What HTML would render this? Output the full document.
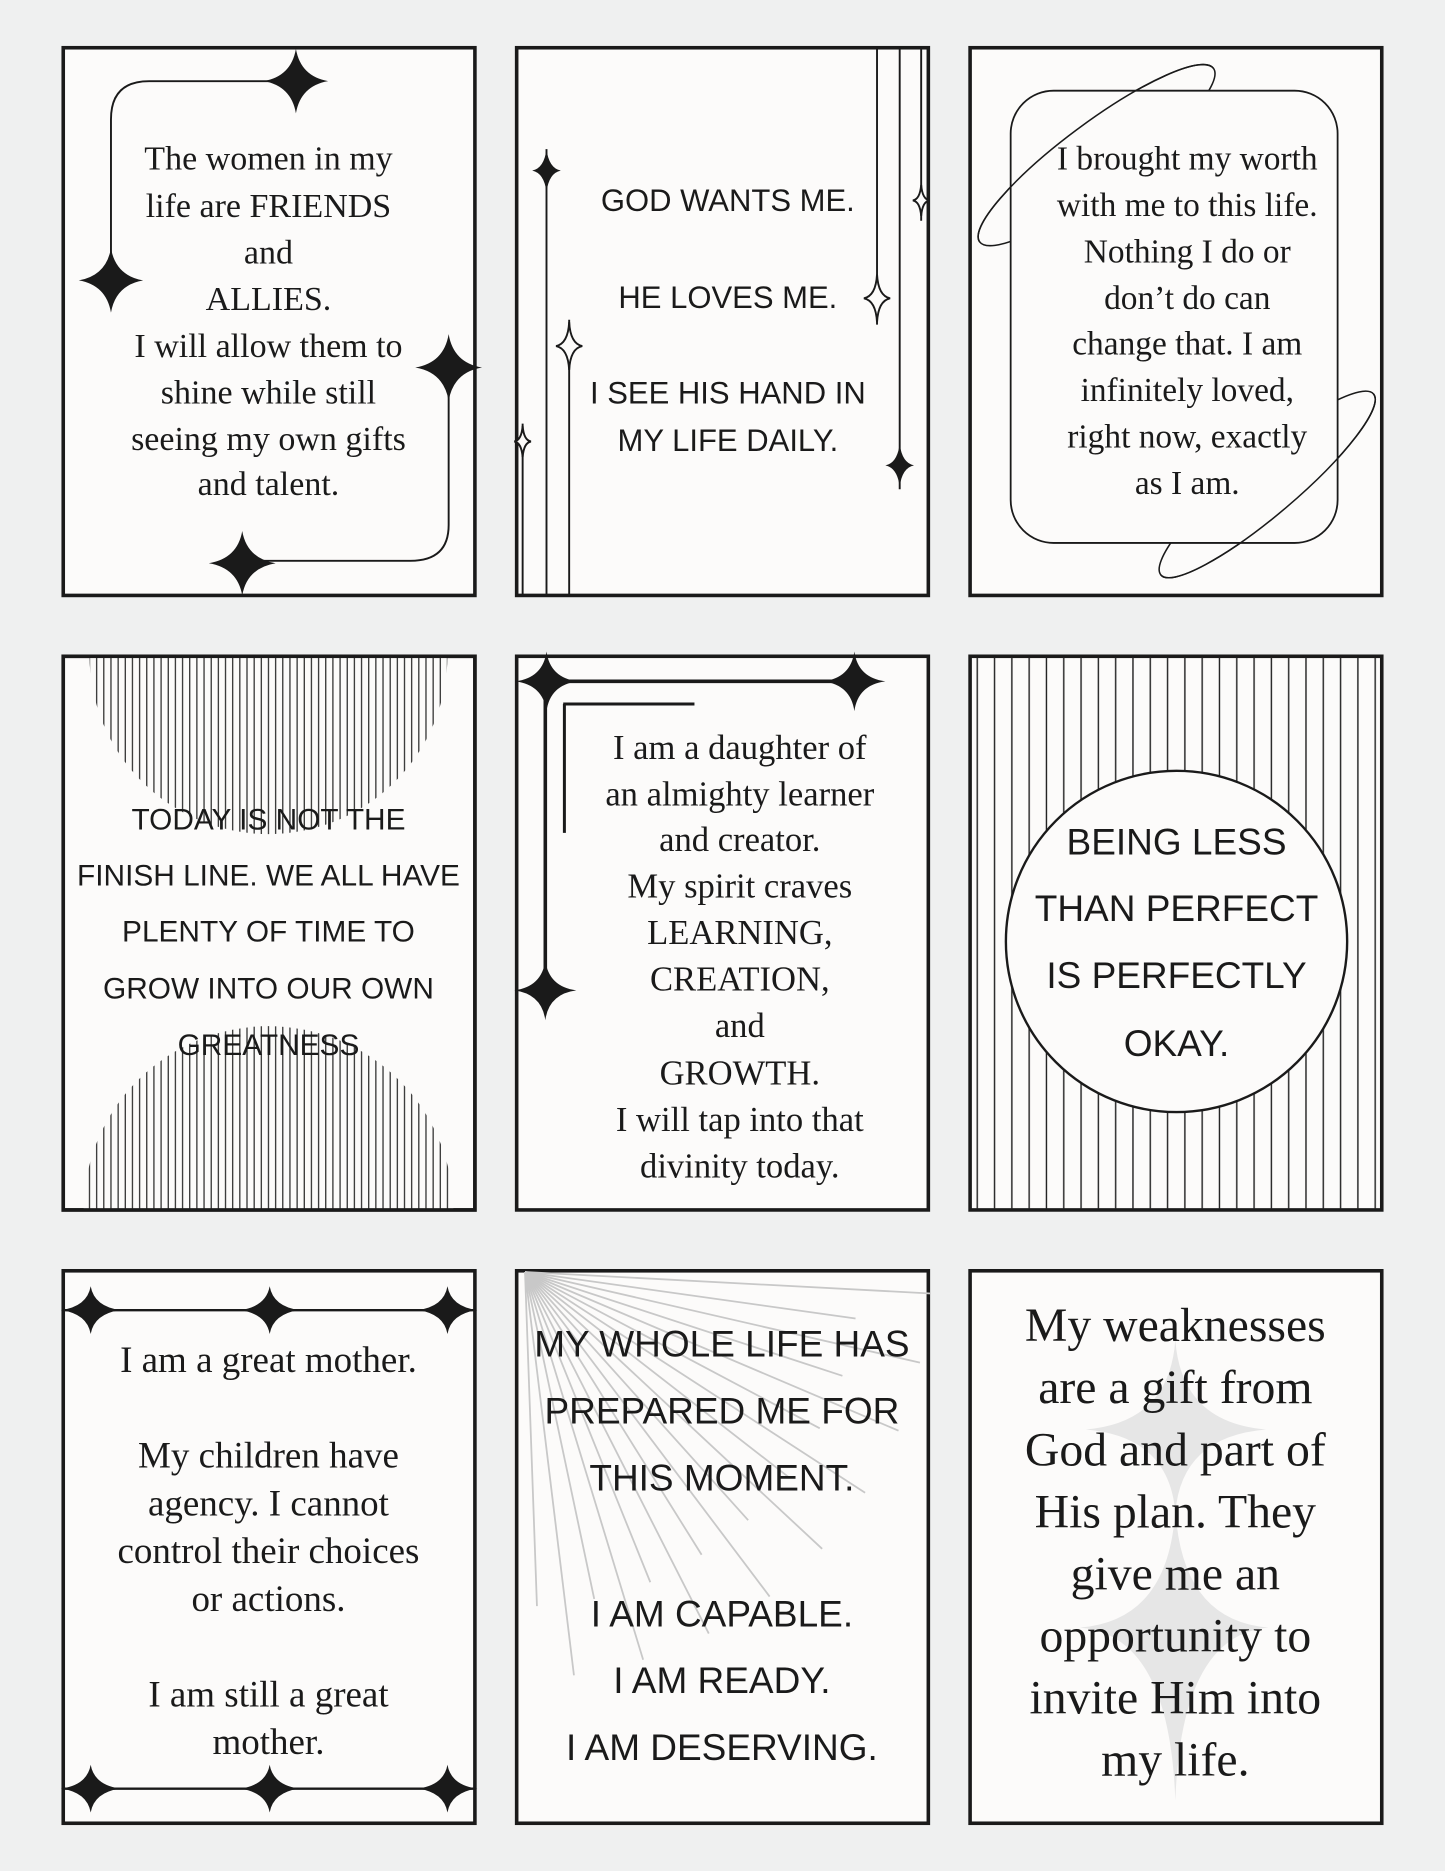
<!DOCTYPE html>
<html><head><meta charset="utf-8"><style>
html,body{margin:0;padding:0;background:#eff0f0;}
svg{display:block}
.s{font-family:"Liberation Serif",serif;fill:#1a1a1a;text-anchor:middle}
.c{font-family:"Liberation Sans",sans-serif;fill:#1a1a1a;text-anchor:middle}
</style></head><body>
<svg width="1445" height="1871" viewBox="0 0 1211 1568" xmlns="http://www.w3.org/2000/svg">
<defs>
<pattern id="st" width="6" height="10" patternUnits="userSpaceOnUse"><rect width="6" height="10" fill="#fcfbfa"/><line x1="3" y1="0" x2="3" y2="10" stroke="#222" stroke-width="1"/></pattern>
<pattern id="st2" x="812" width="14.5" height="10" patternUnits="userSpaceOnUse"><line x1="7" y1="0" x2="7" y2="10" stroke="#222" stroke-width="1.2"/></pattern>
<clipPath id="c4"><rect x="52" y="549" width="347" height="466"/></clipPath>
</defs>
<rect width="1211" height="1568" fill="#eff0f0"/>
<g fill="#fcfbfa" stroke="#1a1a1a" stroke-width="3">
<rect x="53" y="40" width="345" height="459"/>
<rect x="433" y="40" width="345" height="459"/>
<rect x="813" y="40" width="345" height="459"/>
<rect x="53" y="550" width="345" height="464"/>
<rect x="433" y="550" width="345" height="464"/>
<rect x="813" y="550" width="345" height="464"/>
<rect x="53" y="1065" width="345" height="463"/>
<rect x="433" y="1065" width="345" height="463"/>
<rect x="813" y="1065" width="345" height="463"/>
</g>

<!-- card 1 -->
<g fill="none" stroke="#1a1a1a" stroke-width="1.6">
<path d="M248 68 H125 Q93 68 93 100 V235"/>
<path d="M376 308 V440 Q376 470 344 470 H205"/>
</g>
<g fill="#1a1a1a">
<path d="M248 41 Q252 64 275 68 Q252 72 248 95 Q244 72 221 68 Q244 64 248 41Z"/>
<path d="M93 208 Q97 231 120 235 Q97 239 93 262 Q89 239 66 235 Q89 231 93 208Z"/>
<path d="M376 280 Q380 304 404 308 Q380 312 376 336 Q372 312 348 308 Q372 304 376 280Z"/>
<path d="M203 445 Q207 468 231 472 Q207 476 203 499 Q199 476 175 472 Q199 468 203 445Z"/>
</g>
<g class="s" font-size="28.5">
<text x="225" y="142">The women in my</text>
<text x="225" y="182">life are FRIENDS</text>
<text x="225" y="221">and</text>
<text x="225" y="260">ALLIES.</text>
<text x="225" y="299">I will allow them to</text>
<text x="225" y="338">shine while still</text>
<text x="225" y="377">seeing my own gifts</text>
<text x="225" y="415">and talent.</text>
</g>

<!-- card 2 -->
<g stroke="#1a1a1a" stroke-width="1.6" fill="none">
<line x1="458" y1="125" x2="458" y2="500"/>
<line x1="477" y1="268" x2="477" y2="500"/>
<line x1="438" y1="355" x2="438" y2="500"/>
<line x1="735" y1="39" x2="735" y2="272"/>
<line x1="754" y1="39" x2="754" y2="410"/>
<line x1="772" y1="39" x2="772" y2="185"/>
<path d="M477 270 Q478 288 488 290 Q478 292 477 310 Q476 292 466 290 Q476 288 477 270Z" fill="#fcfbfa"/>
<path d="M438 357 Q439 369 445 370 Q439 371 438 383 Q437 371 431 370 Q437 369 438 357Z" fill="#fcfbfa"/>
<path d="M735 230 Q736 248 746 250 Q736 252 735 270 Q734 252 724 250 Q734 248 735 230Z" fill="#fcfbfa"/>
<path d="M772 155 Q773 167 779 168 Q773 169 772 181 Q771 169 765 168 Q771 167 772 155Z" fill="#fcfbfa"/>
</g>
<g fill="#1a1a1a">
<path d="M458 125 Q460 141 470 143 Q460 145 458 161 Q456 145 446 143 Q456 141 458 125Z"/>
<path d="M754 372 Q756 388 766 390 Q756 392 754 408 Q752 392 742 390 Q752 388 754 372Z"/>
</g>
<g class="c" font-size="26">
<text x="610" y="177">GOD WANTS ME.</text>
<text x="610" y="258">HE LOVES ME.</text>
<text x="610" y="338">I SEE HIS HAND IN</text>
<text x="610" y="378">MY LIFE DAILY.</text>
</g>

<!-- card 3 -->
<g fill="none" stroke="#1a1a1a" stroke-width="1.3">
<ellipse cx="919" cy="130" rx="122" ry="27" transform="rotate(-36.6 919 130)"/>
<ellipse cx="1062" cy="406" rx="117" ry="25" transform="rotate(-40.4 1062 406)"/>
</g>
<rect x="847" y="76" width="274" height="379" rx="36" fill="#fcfbfa" stroke="#1a1a1a" stroke-width="1.5"/>
<g fill="none" stroke="#1a1a1a" stroke-width="1.3">
<path d="M-122 0 A122 27 0 0 1 122 0" transform="translate(919 130) rotate(-36.6)"/>
<path d="M-117 0 A117 25 0 0 0 117 0" transform="translate(1062 406) rotate(-40.4)"/>
</g>
<g class="s" font-size="28">
<text x="995" y="142">I brought my worth</text>
<text x="995" y="181">with me to this life.</text>
<text x="995" y="220">Nothing I do or</text>
<text x="995" y="259">don’t do can</text>
<text x="995" y="297">change that. I am</text>
<text x="995" y="336">infinitely loved,</text>
<text x="995" y="375">right now, exactly</text>
<text x="995" y="414">as I am.</text>
</g>

<!-- card 4 -->
<g clip-path="url(#c4)">
<circle cx="225" cy="549" r="150" fill="url(#st)"/>
<circle cx="225" cy="1015" r="155" fill="url(#st)"/>
</g>
<rect x="53" y="550" width="345" height="464" fill="none" stroke="#1a1a1a" stroke-width="3"/>
<g class="c" font-size="25">
<text x="225" y="695">TODAY IS NOT THE</text>
<text x="225" y="742">FINISH LINE. WE ALL HAVE</text>
<text x="225" y="789">PLENTY OF TIME TO</text>
<text x="225" y="837">GROW INTO OUR OWN</text>
<text x="225" y="884">GREATNESS</text>
</g>

<!-- card 5 -->
<g stroke="#1a1a1a" stroke-width="3" fill="none">
<line x1="458" y1="571" x2="716" y2="571"/>
<line x1="457" y1="571" x2="457" y2="830"/>
<line x1="472" y1="590" x2="582" y2="590" stroke-width="2.5"/>
<line x1="473" y1="590" x2="473" y2="698" stroke-width="2.5"/>
</g>
<g fill="#1a1a1a">
<path d="M458 546 Q461 568 484 571 Q461 574 458 596 Q455 574 432 571 Q455 568 458 546Z"/>
<path d="M716 546 Q719 568 742 571 Q719 574 716 596 Q713 574 690 571 Q713 568 716 546Z"/>
<path d="M457 805 Q460 827 483 830 Q460 833 457 855 Q454 833 431 830 Q454 827 457 805Z"/>
</g>
<g class="s" font-size="29">
<text x="620" y="636">I am a daughter of</text>
<text x="620" y="675">an almighty learner</text>
<text x="620" y="713">and creator.</text>
<text x="620" y="752">My spirit craves</text>
<text x="620" y="791">LEARNING,</text>
<text x="620" y="830">CREATION,</text>
<text x="620" y="869">and</text>
<text x="620" y="909">GROWTH.</text>
<text x="620" y="948">I will tap into that</text>
<text x="620" y="987">divinity today.</text>
</g>

<!-- card 6 -->
<rect x="814" y="551" width="343" height="462" fill="url(#st2)"/>
<circle cx="986" cy="789" r="143" fill="#fcfbfa" stroke="#1a1a1a" stroke-width="2"/>
<g class="c" font-size="31">
<text x="986" y="716">BEING LESS</text>
<text x="986" y="772">THAN PERFECT</text>
<text x="986" y="828">IS PERFECTLY</text>
<text x="986" y="885">OKAY.</text>
</g>

<!-- card 7 -->
<g stroke="#1a1a1a" stroke-width="2">
<line x1="53" y1="1098" x2="398" y2="1098"/>
<line x1="53" y1="1499" x2="398" y2="1499"/>
</g>
<g fill="#1a1a1a">
<path d="M76 1078 Q79 1095 101 1098 Q79 1101 76 1118 Q73 1101 51 1098 Q73 1095 76 1078Z"/>
<path d="M226 1078 Q229 1095 251 1098 Q229 1101 226 1118 Q223 1101 201 1098 Q223 1095 226 1078Z"/>
<path d="M375 1078 Q378 1095 400 1098 Q378 1101 375 1118 Q372 1101 350 1098 Q372 1095 375 1078Z"/>
<path d="M76 1479 Q79 1496 101 1499 Q79 1502 76 1519 Q73 1502 51 1499 Q73 1496 76 1479Z"/>
<path d="M226 1479 Q229 1496 251 1499 Q229 1502 226 1519 Q223 1502 201 1499 Q223 1496 226 1479Z"/>
<path d="M375 1479 Q378 1496 400 1499 Q378 1502 375 1519 Q372 1502 350 1499 Q372 1496 375 1479Z"/>
</g>
<g class="s" font-size="31">
<text x="225" y="1150">I am a great mother.</text>
<text x="225" y="1230">My children have</text>
<text x="225" y="1270">agency. I cannot</text>
<text x="225" y="1310">control their choices</text>
<text x="225" y="1350">or actions.</text>
<text x="225" y="1430">I am still a great</text>
<text x="225" y="1470">mother.</text>
</g>

<!-- card 8 -->
<g stroke="#c8c8c8" stroke-width="1.5">
<line x1="440" y1="1066" x2="780" y2="1084"/>
<line x1="440" y1="1066" x2="717" y2="1105"/>
<line x1="440" y1="1066" x2="771" y2="1142"/>
<line x1="440" y1="1066" x2="706" y2="1153"/>
<line x1="440" y1="1066" x2="753" y2="1199"/>
<line x1="440" y1="1066" x2="687" y2="1197"/>
<line x1="440" y1="1066" x2="725" y2="1251"/>
<line x1="440" y1="1066" x2="661" y2="1238"/>
<line x1="440" y1="1066" x2="689" y2="1298"/>
<line x1="440" y1="1066" x2="627" y2="1274"/>
<line x1="440" y1="1066" x2="645" y2="1338"/>
<line x1="440" y1="1066" x2="588" y2="1303"/>
<line x1="440" y1="1066" x2="594" y2="1369"/>
<line x1="440" y1="1066" x2="545" y2="1326"/>
<line x1="440" y1="1066" x2="539" y2="1391"/>
<line x1="440" y1="1066" x2="498" y2="1340"/>
<line x1="440" y1="1066" x2="481" y2="1404"/>
<line x1="440" y1="1066" x2="450" y2="1346"/>
</g>
<g class="c" font-size="31">
<text x="605" y="1137">MY WHOLE LIFE HAS</text>
<text x="605" y="1193">PREPARED ME FOR</text>
<text x="605" y="1249">THIS MOMENT.</text>
<text x="605" y="1363">I AM CAPABLE.</text>
<text x="605" y="1419">I AM READY.</text>
<text x="605" y="1475">I AM DESERVING.</text>
</g>

<!-- card 9 -->
<g fill="#e6e6e6">
<path d="M985 1123 Q990 1192 1061 1198 Q990 1204 985 1268 Q980 1204 910 1198 Q980 1192 985 1123Z"/>
<path d="M985 1264 Q990 1358 1063 1364 Q990 1370 985 1509 Q980 1370 905 1364 Q980 1358 985 1264Z"/>
</g>
<g class="s" font-size="40">
<text x="985" y="1124">My weaknesses</text>
<text x="985" y="1176">are a gift from</text>
<text x="985" y="1228">God and part of</text>
<text x="985" y="1280">His plan. They</text>
<text x="985" y="1332">give me an</text>
<text x="985" y="1384">opportunity to</text>
<text x="985" y="1436">invite Him into</text>
<text x="985" y="1488">my life.</text>
</g>
</svg>
</body></html>
